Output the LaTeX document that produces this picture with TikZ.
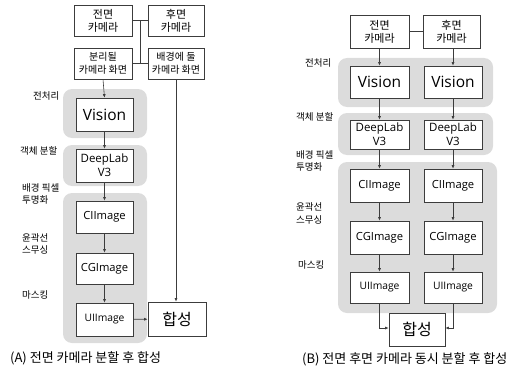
\documentclass[tikz,border=0pt]{standalone}
\usepackage{fontspec}
\setmainfont{Noto Sans CJK KR}
\newfontfamily\latf{Open Sans}
\usetikzlibrary{arrows.meta,calc}
\definecolor{regiongray}{HTML}{DCDCDC}
\definecolor{linegray}{HTML}{3C3C3C}
\begin{document}
\begin{tikzpicture}[x=1pt,y=-1pt,
  box/.style={draw=linegray,line width=0.7pt,fill=white,inner sep=0pt,align=center,font=\fontsize{11}{13}\selectfont},
  scrf/.style={font=\fontsize{10}{13}\selectfont},
  visf/.style={font=\latf\fontsize{15.5}{18}\selectfont},
  dlf/.style={font=\latf\fontsize{11.5}{14}\selectfont},
  imf/.style={font=\latf\fontsize{11.2}{14}\selectfont},
  uif/.style={font=\latf\fontsize{10.3}{13}\selectfont},
  hapf/.style={font=\fontsize{16}{18}\selectfont},
  region/.style={fill=regiongray,draw=none,rounded corners=9pt},
  conn/.style={draw=linegray,line width=0.6pt},
  arr/.style={conn,-{Latex[length=3.5pt,width=3pt]}},
  side/.style={anchor=west,align=left,inner sep=0pt,font=\fontsize{9.5}{12.5}\selectfont},
  captxt/.style={anchor=west,inner sep=0pt,font=\fontsize{13}{15}\selectfont}]
\useasboundingbox (0,0) rectangle (511,369);
% ---------- (A) ----------
\fill[region] (63,89) rectangle (147,138);
\fill[region] (63,145) rectangle (147,186);
\fill[region] (63,193) rectangle (147,343);
\node[box,minimum width=58pt,minimum height=31pt] (fa) at (103,20.5) {전면\\카메라};
\node[box,minimum width=56pt,minimum height=31pt] (ra) at (176,20.5) {후면\\카메라};
\node[box,scrf,minimum width=58pt,minimum height=31pt] (sa) at (103,63.5) {분리될\\카메라 화면};
\node[box,scrf,minimum width=56pt,minimum height=31pt] (ba) at (176,63.5) {배경에 둘\\카메라 화면};
\node[box,visf,minimum width=57pt,minimum height=33pt] (va) at (104.5,114.5) {Vision};
\node[box,dlf,minimum width=57pt,minimum height=33pt] (da) at (104.5,165.5) {DeepLab\\V3};
\node[box,imf,minimum width=57pt,minimum height=32pt] (cia) at (104.5,217) {CIImage};
\node[box,imf,minimum width=57pt,minimum height=31pt] (cga) at (104.5,268.5) {CGImage};
\node[box,uif,minimum width=57pt,minimum height=33pt] (uia) at (104.5,319.5) {UIImage};
\node[box,hapf,minimum width=58pt,minimum height=34pt] (ha) at (177,319) {합성};
\coordinate (ja1) at ($(fa.east)!0.5!(ra.west)$);
\coordinate (ja2) at ($(sa.east)!0.5!(ba.west)$);
\draw[conn] (fa) -- (ra);
\draw[conn] (sa) -- (ba);
\draw[conn] (ja1) -- (ja2);
\draw[arr] (sa.south) -- (va.north);
\draw[arr] (va) -- (da);
\draw[arr] (da) -- (cia);
\draw[arr] (cia) -- (cga);
\draw[arr] (cga) -- (uia);
\draw[arr] (uia) -- (ha);
\draw[arr] (ba.south) -- (ha.north -| ba.south);
\node[side] (la1) at (33,96) {전처리};
\node[side] (la2) at (20,151) {객체 분할};
\node[side] (la3) at (22,194) {배경 픽셀\\투명화};
\node[side] (la4) at (22,244) {윤곽선\\스무싱};
\node[side] (la5) at (22,295) {마스킹};
\node[captxt] (capa) at (10,358) {(A) 전면 카메라 분할 후 합성};
% ---------- (B) ----------
\fill[region] (338,58) rectangle (493,107);
\fill[region] (338,113) rectangle (493,155);
\fill[region] (338,162) rectangle (497,313);
\node[box,minimum width=59pt,minimum height=33pt] (fb) at (379.5,31.5) {전면\\카메라};
\node[box,minimum width=57pt,minimum height=33pt] (rb) at (451.5,31.5) {후면\\카메라};
\node[box,visf,minimum width=59pt,minimum height=32pt] (vb1) at (379.5,82) {Vision};
\node[box,visf,minimum width=58pt,minimum height=32pt] (vb2) at (453,82) {Vision};
\node[box,dlf,minimum width=59pt,minimum height=29pt] (db1) at (379.5,134.5) {DeepLab\\V3};
\node[box,dlf,minimum width=58pt,minimum height=29pt] (db2) at (453,134.5) {DeepLab\\V3};
\node[box,imf,minimum width=59pt,minimum height=33pt] (cib1) at (379.5,185.5) {CIImage};
\node[box,imf,minimum width=58pt,minimum height=33pt] (cib2) at (453,185.5) {CIImage};
\node[box,imf,minimum width=59pt,minimum height=33pt] (cgb1) at (379.5,237.5) {CGImage};
\node[box,imf,minimum width=58pt,minimum height=33pt] (cgb2) at (453,237.5) {CGImage};
\node[box,uif,minimum width=59pt,minimum height=31pt] (uib1) at (379.5,287.5) {UIImage};
\node[box,uif,minimum width=58pt,minimum height=31pt] (uib2) at (453,287.5) {UIImage};
\node[box,hapf,minimum width=56pt,minimum height=33pt] (hb) at (417,329.5) {합성};
\draw[conn] (fb) -- (rb);
\draw[arr] (fb) -- (vb1);
\draw[arr] (rb.south -| vb2) -- (vb2);
\draw[arr] (vb1) -- (db1);
\draw[arr] (vb2) -- (db2);
\draw[arr] (db1) -- (cib1);
\draw[arr] (db2) -- (cib2);
\draw[arr] (cib1) -- (cgb1);
\draw[arr] (cib2) -- (cgb2);
\draw[arr] (cgb1) -- (uib1);
\draw[arr] (cgb2) -- (uib2);
\draw[arr] (uib1.south) |- ([yshift=1.5pt]hb.west);
\draw[arr] (uib2.south) |- ([yshift=1.5pt]hb.east);
\node[side] (lb1) at (305,63) {전처리};
\node[side] (lb2) at (296,117) {객체 분할};
\node[side] (lb3) at (296,161) {배경 픽셀\\투명화};
\node[side] (lb4) at (296,213.5) {윤곽선\\스무싱};
\node[side] (lb5) at (298,265) {마스킹};
\node[captxt] (capb) at (302,359) {(B) 전면 후면 카메라 동시 분할 후 합성};
\end{tikzpicture}
\end{document}
